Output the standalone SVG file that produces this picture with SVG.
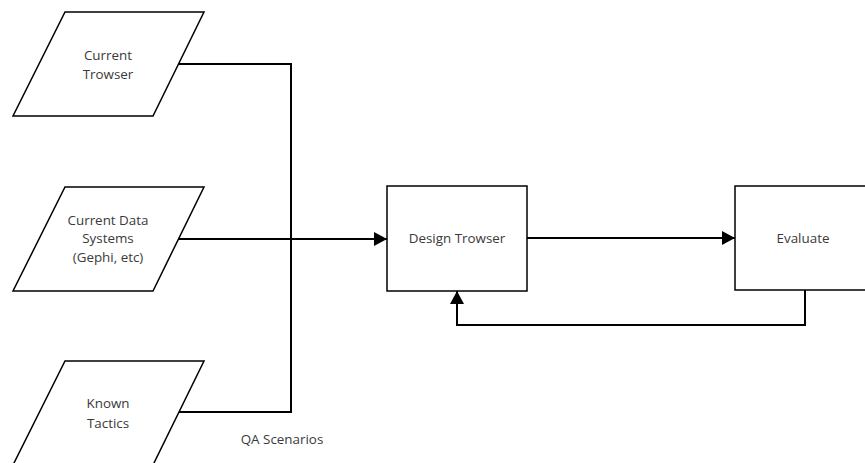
<svg xmlns="http://www.w3.org/2000/svg" width="865" height="463" viewBox="0 0 865 463">
  <style>
    .shape { fill: #ffffff; stroke: #000000; stroke-width: 1.5; }
    .label { font-family: "Open Sans", "Liberation Sans", sans-serif; font-size: 13.4px; fill: #3a3a3a; text-anchor: middle; }
    .wire { fill: none; stroke: #000000; stroke-width: 2; }
  </style>
  <defs>
    <marker id="arrow" viewBox="0 0 13 14" refX="13" refY="7" markerWidth="13" markerHeight="14" markerUnits="userSpaceOnUse" orient="auto">
      <path d="M0,0 L13,7 L0,14 Z" fill="#000000"/>
    </marker>
  </defs>
  <rect width="865" height="463" fill="#ffffff"/>

  <g id="connectors">
    <path class="wire" d="M179,64 H291 V412 H179"/>
    <path class="wire" d="M179,239 H387" marker-end="url(#arrow)"/>
    <path class="wire" d="M527,238 H735" marker-end="url(#arrow)"/>
    <path class="wire" d="M805,290 V325 H457 V291" marker-end="url(#arrow)"/>
  </g>

  <g id="current-trowser">
    <polygon class="shape" points="65,12 204,12 153,116 13,116"/>
    <text class="label" x="108" y="60">Current</text>
    <text class="label" x="108" y="79">Trowser</text>
  </g>

  <g id="current-data-systems">
    <polygon class="shape" points="65,187 204,187 153,291 13,291"/>
    <text class="label" x="108" y="225">Current Data</text>
    <text class="label" x="108" y="243">Systems</text>
    <text class="label" x="108" y="262">(Gephi, etc)</text>
  </g>

  <g id="known-tactics">
    <polygon class="shape" points="65,361 204,361 153,465 13,465"/>
    <text class="label" x="108" y="408">Known</text>
    <text class="label" x="108" y="428">Tactics</text>
  </g>

  <g id="qa-scenarios">
    <text class="label" x="282" y="444">QA Scenarios</text>
  </g>

  <g id="design-trowser">
    <rect class="shape" x="387" y="186" width="140" height="105"/>
    <text class="label" x="457" y="243">Design Trowser</text>
  </g>

  <g id="evaluate">
    <rect class="shape" x="735" y="186" width="136" height="104"/>
    <text class="label" x="803" y="243">Evaluate</text>
  </g>
</svg>
